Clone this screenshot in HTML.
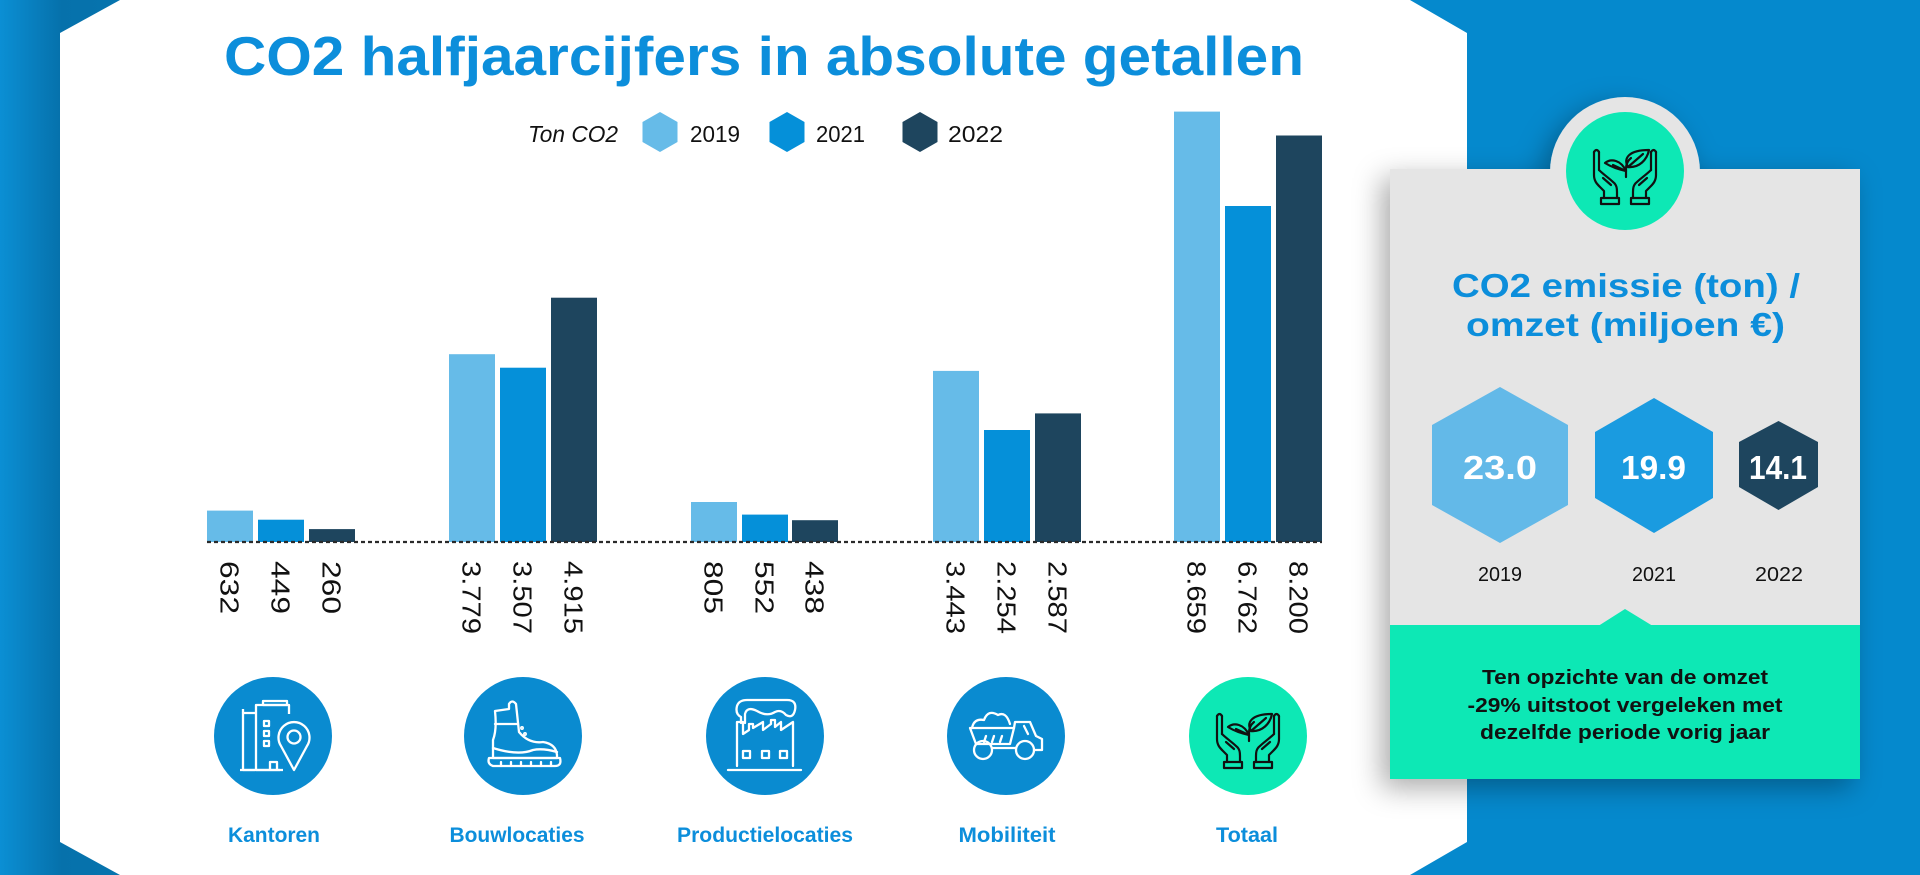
<!DOCTYPE html>
<html>
<head>
<meta charset="utf-8">
<style>
html,body{margin:0;padding:0;width:1920px;height:875px;overflow:hidden;background:#0589cd;}
svg{display:block;}
</style>
</head>
<body>
<svg width="1920" height="875" viewBox="0 0 1920 875" xmlns="http://www.w3.org/2000/svg" font-family="'Liberation Sans', Arial, sans-serif">
  <defs>
    <linearGradient id="lg" x1="0" y1="0" x2="125" y2="0" gradientUnits="userSpaceOnUse">
      <stop offset="0" stop-color="#0b8fd4"/>
      <stop offset="0.49" stop-color="#0671ab"/>
      <stop offset="1" stop-color="#0674ae"/>
    </linearGradient>
    <filter id="sh" x="-20%" y="-20%" width="140%" height="140%">
      <feDropShadow dx="-8" dy="9" stdDeviation="14" flood-color="#000" flood-opacity="0.33"/>
    </filter>
  </defs>

  <!-- background -->
  <rect x="0" y="0" width="1920" height="875" fill="#0589cd"/>
  <rect x="0" y="0" width="125" height="875" fill="url(#lg)"/>

  <!-- white panel -->
  <polygon points="60,33 120,0 1410,0 1467,33 1467,842 1410,875 120,875 60,842" fill="#ffffff"/>

  <!-- title -->
  <text x="224" y="75" font-size="55" font-weight="bold" fill="#0c8edb" textLength="1080" lengthAdjust="spacingAndGlyphs">CO2 halfjaarcijfers in absolute getallen</text>

  <!-- legend -->
  <text x="528" y="142" font-size="23" font-style="italic" fill="#111" textLength="90" lengthAdjust="spacingAndGlyphs">Ton CO2</text>
  <polygon points="660,112 677.5,122 677.5,142 660,152 642.5,142 642.5,122" fill="#66bbe8"/>
  <text x="690" y="142" font-size="23" fill="#111" textLength="50" lengthAdjust="spacingAndGlyphs">2019</text>
  <polygon points="787,112 804.5,122 804.5,142 787,152 769.5,142 769.5,122" fill="#0590d9"/>
  <text x="816" y="142" font-size="23" fill="#111" textLength="49" lengthAdjust="spacingAndGlyphs">2021</text>
  <polygon points="920,112 937.5,122 937.5,142 920,152 902.5,142 902.5,122" fill="#1e455e"/>
  <text x="948" y="142" font-size="23" fill="#111" textLength="55" lengthAdjust="spacingAndGlyphs">2022</text>

  <!-- bars (baseline 542, 0.0497 px per ton) -->
  <g>
    <rect x="207" y="510.6" width="46" height="31.4" fill="#66bbe8"/>
    <rect x="258" y="519.7" width="46" height="22.3" fill="#0590d9"/>
    <rect x="309" y="529.1" width="46" height="12.9" fill="#1e455e"/>
    <rect x="449" y="354.2" width="46" height="187.8" fill="#66bbe8"/>
    <rect x="500" y="367.7" width="46" height="174.3" fill="#0590d9"/>
    <rect x="551" y="297.7" width="46" height="244.3" fill="#1e455e"/>
    <rect x="691" y="502" width="46" height="40" fill="#66bbe8"/>
    <rect x="742" y="514.6" width="46" height="27.4" fill="#0590d9"/>
    <rect x="792" y="520.2" width="46" height="21.8" fill="#1e455e"/>
    <rect x="933" y="370.9" width="46" height="171.1" fill="#66bbe8"/>
    <rect x="984" y="430" width="46" height="112" fill="#0590d9"/>
    <rect x="1035" y="413.4" width="46" height="128.6" fill="#1e455e"/>
    <rect x="1174" y="111.6" width="46" height="430.4" fill="#66bbe8"/>
    <rect x="1225" y="206" width="46" height="336" fill="#0590d9"/>
    <rect x="1276" y="135.5" width="46" height="406.5" fill="#1e455e"/>
  </g>
  <line x1="207" y1="542" x2="1322" y2="542" stroke="#2a2a2a" stroke-width="2.2" stroke-dasharray="4,3"/>

  <!-- value labels (rotated) -->
  <g font-size="26" fill="#111">
    <text transform="translate(220.6,561) rotate(90)" textLength="53" lengthAdjust="spacingAndGlyphs">632</text>
    <text transform="translate(271.6,561) rotate(90)" textLength="53" lengthAdjust="spacingAndGlyphs">449</text>
    <text transform="translate(322.6,561) rotate(90)" textLength="53" lengthAdjust="spacingAndGlyphs">260</text>
    <text transform="translate(462.6,561) rotate(90)" textLength="73" lengthAdjust="spacingAndGlyphs">3.779</text>
    <text transform="translate(513.6,561) rotate(90)" textLength="73" lengthAdjust="spacingAndGlyphs">3.507</text>
    <text transform="translate(564.6,561) rotate(90)" textLength="73" lengthAdjust="spacingAndGlyphs">4.915</text>
    <text transform="translate(704.6,561) rotate(90)" textLength="53" lengthAdjust="spacingAndGlyphs">805</text>
    <text transform="translate(755.6,561) rotate(90)" textLength="53" lengthAdjust="spacingAndGlyphs">552</text>
    <text transform="translate(805.6,561) rotate(90)" textLength="53" lengthAdjust="spacingAndGlyphs">438</text>
    <text transform="translate(946.6,561) rotate(90)" textLength="73" lengthAdjust="spacingAndGlyphs">3.443</text>
    <text transform="translate(997.6,561) rotate(90)" textLength="73" lengthAdjust="spacingAndGlyphs">2.254</text>
    <text transform="translate(1048.6,561) rotate(90)" textLength="73" lengthAdjust="spacingAndGlyphs">2.587</text>
    <text transform="translate(1187.6,561) rotate(90)" textLength="73" lengthAdjust="spacingAndGlyphs">8.659</text>
    <text transform="translate(1238.6,561) rotate(90)" textLength="73" lengthAdjust="spacingAndGlyphs">6.762</text>
    <text transform="translate(1289.6,561) rotate(90)" textLength="73" lengthAdjust="spacingAndGlyphs">8.200</text>
  </g>

  <!-- icon circles -->
  <circle cx="273" cy="736" r="59" fill="#0a8bd0"/>
  <circle cx="523" cy="736" r="59" fill="#0a8bd0"/>
  <circle cx="765" cy="736" r="59" fill="#0a8bd0"/>
  <circle cx="1006" cy="736" r="59" fill="#0a8bd0"/>
  <circle cx="1248" cy="736" r="59" fill="#0de8b5"/>

  <!-- Kantoren icon -->
  <g transform="translate(273,736)" fill="none" stroke="#fff" stroke-width="2.3" stroke-linejoin="round">
    <polyline points="-18,34 -30,34 -30,-23 -18,-23"/>
    <line x1="-30" y1="-23" x2="-30" y2="-27"/>
    <polyline points="7,34 -17,34 -17,-31 16,-31 16,-22"/>
    <rect x="-10" y="-35" width="24" height="4"/>
    <rect x="-9" y="-15" width="5" height="5"/>
    <rect x="-9" y="-5" width="5" height="5"/>
    <rect x="-9" y="5" width="5" height="5"/>
    <polyline points="-3,34 -3,26 4,26 4,34"/>
    <path d="M21,34 L8,10 A15.5,15.5 0 1 1 34,10 Z" fill="#0a8bd0"/>
    <circle cx="21" cy="1" r="6.5"/>
    <line x1="-33" y1="34" x2="10" y2="34"/>
  </g>

  <!-- Bouwlocaties boot icon -->
  <g transform="translate(523,736)" fill="none" stroke="#fff" stroke-width="2.3" stroke-linejoin="round" stroke-linecap="round">
    <path d="M-28,-25 L-14,-27 L-14,-32 Q-11,-37 -7,-32 L-4,-4 Q6,8 20,6 Q33,8 34,19 L34,22 L-30,22 L-30,4 Q-26,-6 -28,-25 Z"/>
    <line x1="-28" y1="-12" x2="-6" y2="-12"/>
    <path d="M-34,22 L37,22 Q39,30 32,30 L-30,30 Q-36,28 -34,22 Z"/>
    <circle cx="-1" cy="-8" r="0.8"/>
    <circle cx="2" cy="-2" r="0.8"/>
    <path d="M-30,12 Q-5,20 10,14 Q20,12 34,16"/>
    <line x1="-22" y1="26" x2="-22" y2="30"/>
    <line x1="-12" y1="26" x2="-12" y2="30"/>
    <line x1="-2" y1="26" x2="-2" y2="30"/>
    <line x1="8" y1="26" x2="8" y2="30"/>
    <line x1="18" y1="26" x2="18" y2="30"/>
    <line x1="28" y1="26" x2="28" y2="30"/>
  </g>

  <!-- Productielocaties factory icon -->
  <g transform="translate(765,736)" fill="none" stroke="#fff" stroke-width="2.3" stroke-linejoin="round" stroke-linecap="round">
    <path d="M-24,-13 L-24,-19 Q-30,-22 -28,-30 Q-26,-36 -18,-36 L22,-36 Q32,-36 30,-26 Q28,-17 21,-21 Q16,-27 10,-24 Q2,-19 -8,-25 Q-18,-30 -20,-22 L-20,-13"/>
    <path d="M-28,30 L-28,-14 L-22,-14 L-22,-2 L-16,-6 L-16,-12 L-12,-12 L-12,-8 L-2,-14 L-2,-6 L6,-12 L6,-16 L10,-16 L10,-9 L16,-14 L16,-6 L28,-14 L28,30"/>
    <rect x="-22" y="15" width="7" height="7"/>
    <rect x="-3" y="15" width="7" height="7"/>
    <rect x="15" y="15" width="7" height="7"/>
    <line x1="-37" y1="34" x2="36" y2="34"/>
  </g>

  <!-- Mobiliteit truck icon -->
  <g transform="translate(1006,736)" fill="none" stroke="#fff" stroke-width="2.3" stroke-linejoin="round" stroke-linecap="round">
    <path d="M-34,-8 Q-32,-18 -22,-16 Q-18,-27 -8,-21 Q0,-25 4,-12"/>
    <path d="M-36,-8 L8,-8 L4,8 L-30,8 Z"/>
    <path d="M8,-8 L9,-14 L24,-14 L30,0 L36,3 L36,14 L28,14"/>
    <line x1="18" y1="-10" x2="22" y2="-2"/>
    <line x1="-20" y1="0" x2="-22" y2="6"/>
    <line x1="-12" y1="0" x2="-14" y2="6"/>
    <line x1="-4" y1="0" x2="-6" y2="6"/>
    <line x1="-14" y1="12" x2="10" y2="12"/>
    <circle cx="-23" cy="14" r="9"/>
    <circle cx="19" cy="14" r="9"/>
  </g>

  <!-- Totaal hands icon -->
  <g transform="translate(1248,736)" fill="none" stroke="#111" stroke-width="2.2" stroke-linejoin="round" stroke-linecap="round">
    <path d="M-31,-20 L-31,3 C-31,9 -28,12 -25,15 L-21,19 L-21,26"/>
    <path d="M-26,-20 L-26,-2"/>
    <path d="M-31,-20 Q-28.5,-24 -26,-20"/>
    <path d="M-26,-2 C-22,2 -15,7 -12,10 C-8,13 -8,17 -8,20 L-8,26"/>
    <path d="M-22,6 L-14,13"/>
    <rect x="-24" y="26" width="18" height="6"/>
    <path d="M31,-20 L31,3 C31,9 28,12 25,15 L21,19 L21,26"/>
    <path d="M26,-20 L26,-2"/>
    <path d="M31,-20 Q28.5,-24 26,-20"/>
    <path d="M26,-2 C22,2 15,7 12,10 C8,13 8,17 8,20 L8,26"/>
    <path d="M22,6 L14,13"/>
    <rect x="6" y="26" width="18" height="6"/>
    <path d="M1,5 L1,-3 Q1,-10 6,-14"/>
    <path d="M1,-1 C-4,-2 -12,-4 -20,-9 C-14,-14 -4,-12 1,-1 Z"/>
    <path d="M1,-1 L-12,-7"/>
    <path d="M3,-5 C-2,-14 4,-22 24,-22 C22,-12 14,-4 3,-5 Z"/>
    <path d="M3,-5 L18,-18"/>
  </g>

  <!-- category labels -->
  <g font-size="21" font-weight="bold" fill="#0c8edb" text-anchor="middle">
    <text x="274" y="842" textLength="92" lengthAdjust="spacingAndGlyphs">Kantoren</text>
    <text x="517" y="842" textLength="135" lengthAdjust="spacingAndGlyphs">Bouwlocaties</text>
    <text x="765" y="842" textLength="176" lengthAdjust="spacingAndGlyphs">Productielocaties</text>
    <text x="1007" y="842" textLength="97" lengthAdjust="spacingAndGlyphs">Mobiliteit</text>
    <text x="1247" y="842" textLength="62" lengthAdjust="spacingAndGlyphs">Totaal</text>
  </g>

  <!-- right card -->
  <g filter="url(#sh)">
    <circle cx="1625" cy="172" r="75" fill="#e5e5e5"/>
    <rect x="1390" y="169" width="470" height="610" fill="#e5e5e5"/>
    <rect x="1390" y="625" width="470" height="154" fill="#0de8b5"/>
  </g>
  <polygon points="1599,625.5 1625,609 1652,625.5" fill="#0de8b5"/>
  <circle cx="1625" cy="171" r="59" fill="#0de8b5"/>

  <!-- card icon -->
  <g transform="translate(1625,172)" fill="none" stroke="#111" stroke-width="2.2" stroke-linejoin="round" stroke-linecap="round">
    <path d="M-31,-20 L-31,3 C-31,9 -28,12 -25,15 L-21,19 L-21,26"/>
    <path d="M-26,-20 L-26,-2"/>
    <path d="M-31,-20 Q-28.5,-24 -26,-20"/>
    <path d="M-26,-2 C-22,2 -15,7 -12,10 C-8,13 -8,17 -8,20 L-8,26"/>
    <path d="M-22,6 L-14,13"/>
    <rect x="-24" y="26" width="18" height="6"/>
    <path d="M31,-20 L31,3 C31,9 28,12 25,15 L21,19 L21,26"/>
    <path d="M26,-20 L26,-2"/>
    <path d="M31,-20 Q28.5,-24 26,-20"/>
    <path d="M26,-2 C22,2 15,7 12,10 C8,13 8,17 8,20 L8,26"/>
    <path d="M22,6 L14,13"/>
    <rect x="6" y="26" width="18" height="6"/>
    <path d="M1,5 L1,-3 Q1,-10 6,-14"/>
    <path d="M1,-1 C-4,-2 -12,-4 -20,-9 C-14,-14 -4,-12 1,-1 Z"/>
    <path d="M1,-1 L-12,-7"/>
    <path d="M3,-5 C-2,-14 4,-22 24,-22 C22,-12 14,-4 3,-5 Z"/>
    <path d="M3,-5 L18,-18"/>
  </g>

  <!-- card title -->
  <g font-size="33" font-weight="bold" fill="#0c8edb" text-anchor="middle">
    <text x="1626" y="297" textLength="348" lengthAdjust="spacingAndGlyphs">CO2 emissie (ton) /</text>
    <text x="1625.5" y="336" textLength="319" lengthAdjust="spacingAndGlyphs">omzet (miljoen €)</text>
  </g>

  <!-- card hexagons -->
  <polygon points="1500,387 1568,425 1568,505 1500,543 1432,505 1432,425" fill="#63b9e8"/>
  <polygon points="1654,398 1713,432 1713,498 1654,533 1595,498 1595,432" fill="#1a9be0"/>
  <polygon points="1778.5,421 1818,442 1818,487 1778.5,510 1739,487 1739,442" fill="#1e455e"/>
  <g font-size="33" font-weight="bold" fill="#ffffff" text-anchor="middle">
    <text x="1500" y="479" textLength="74" lengthAdjust="spacingAndGlyphs">23.0</text>
    <text x="1653.5" y="479" textLength="65" lengthAdjust="spacingAndGlyphs">19.9</text>
    <text x="1778" y="479" textLength="58" lengthAdjust="spacingAndGlyphs">14.1</text>
  </g>
  <g font-size="20" fill="#111" text-anchor="middle">
    <text x="1500" y="581" textLength="44" lengthAdjust="spacingAndGlyphs">2019</text>
    <text x="1654" y="581" textLength="44" lengthAdjust="spacingAndGlyphs">2021</text>
    <text x="1779" y="581" textLength="48" lengthAdjust="spacingAndGlyphs">2022</text>
  </g>

  <!-- mint text -->
  <g font-size="20" font-weight="bold" fill="#111" text-anchor="middle">
    <text x="1625" y="684" textLength="286" lengthAdjust="spacingAndGlyphs">Ten opzichte van de omzet</text>
    <text x="1625" y="712" textLength="315" lengthAdjust="spacingAndGlyphs">-29% uitstoot vergeleken met</text>
    <text x="1625" y="739" textLength="290" lengthAdjust="spacingAndGlyphs">dezelfde periode vorig jaar</text>
  </g>
</svg>
</body>
</html>
